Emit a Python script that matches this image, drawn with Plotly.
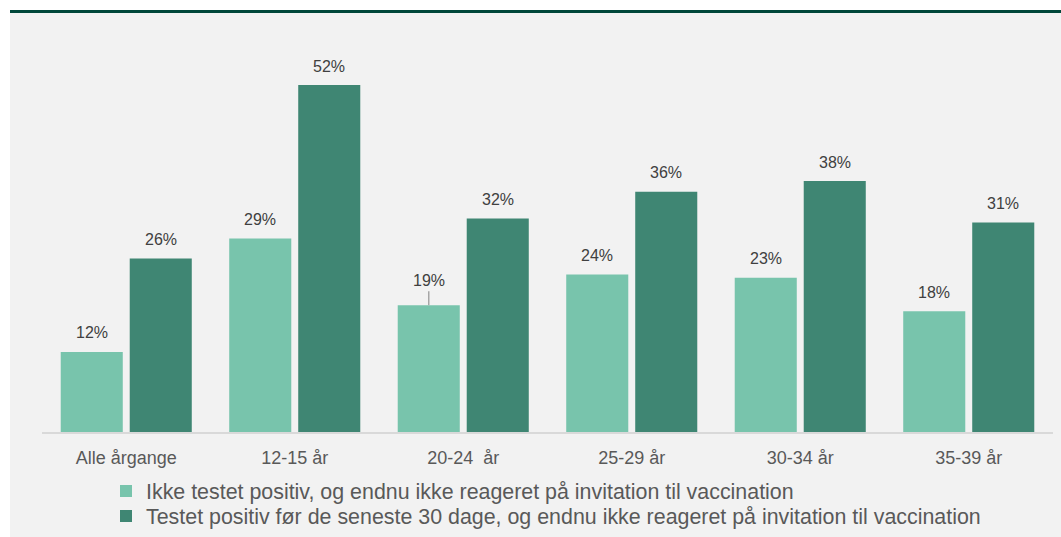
import plotly.graph_objects as go

categories = ["Alle årgange", "12-15 år", "20-24\u00a0 år", "25-29 år", "30-34 år", "35-39 år"]
not_tested = [12, 29, 19, 23.6, 23.1, 18.1]
tested_before = [26, 52, 32, 36, 37.6, 31.4]
series_names = [
    "Ikke testet positiv, og endnu ikke reageret på invitation til vaccination",
    "Testet positiv før de seneste 30 dage, og endnu ikke reageret på invitation til vaccination",
]

LIGHT = "#78C4AC"
DARK = "#3F8673"
FONT = "Liberation Sans, Arial, sans-serif"

W, H = 1061, 537
ML, MR, MT, MB = 42, 8, 20, 105
plot_w = W - ML - MR
plot_h = H - MT - MB
px_per_unit = 6.673
ymax = plot_h / px_per_unit


def px2x(px):
    return (px - ML) / plot_w


def py2y(py):
    return (H - MB - py) / plot_h


fig = go.Figure()
fig.add_bar(x=categories, y=not_tested, name=series_names[0], marker_color=LIGHT,
            marker_line_width=0, legend="legend")
fig.add_bar(x=categories, y=tested_before, name=series_names[1], marker_color=DARK,
            marker_line_width=0, legend="legend2")

label_font = dict(family=FONT, size=16, color="#404040")
ann = []
for vals, shift in ((not_tested, -34.5), (tested_before, 34.5)):
    for c, v in zip(categories, vals):
        lead = (c == categories[2] and shift < 0)
        if lead:
            ann.append(dict(x=c, y=v, xref="x", yref="y", xshift=shift,
                            text=f"{v:.0f}%", showarrow=True, ax=0, ay=-14,
                            arrowhead=0, arrowwidth=1.5, arrowcolor="#a6a6a6",
                            standoff=0, yanchor="bottom", font=label_font))
        else:
            ann.append(dict(x=c, y=v, xref="x", yref="y", xshift=shift, yshift=19,
                            text=f"{v:.0f}%", showarrow=False, yanchor="middle",
                            font=label_font))

shapes = [
    dict(type="rect", xref="paper", yref="paper", x0=px2x(10), x1=px2x(1061),
         y0=py2y(537), y1=py2y(10), fillcolor="#f2f2f2", line_width=0, layer="below"),
    dict(type="rect", xref="paper", yref="paper", x0=px2x(10), x1=px2x(1061),
         y0=py2y(13), y1=py2y(10), fillcolor="#00473A", line_width=0, layer="above"),
]

legend_style = dict(orientation="v", xanchor="left", yanchor="middle",
                    bgcolor="rgba(0,0,0,0)",
                    font=dict(family=FONT, size=21.4, color="#595959"),
                    itemsizing="constant")

fig.update_layout(
    width=W, height=H,
    margin=dict(l=ML, r=MR, t=MT, b=MB, pad=0, autoexpand=False),
    paper_bgcolor="white",
    plot_bgcolor="rgba(0,0,0,0)",
    barmode="group",
    bargap=0.181,
    bargroupgap=0.101,
    shapes=shapes,
    annotations=ann,
    showlegend=True,
    legend=dict(legend_style, x=px2x(106), y=py2y(491)),
    legend2=dict(legend_style, x=px2x(106), y=py2y(516)),
    font=dict(family=FONT),
    xaxis=dict(showline=True, linecolor="#d9d9d9", linewidth=2, showgrid=False,
               ticks="outside", ticklen=8, tickcolor="rgba(0,0,0,0)",
               tickfont=dict(family=FONT, size=18, color="#595959")),
    yaxis=dict(range=[0, ymax], visible=False, showgrid=False, zeroline=False),
)

fig.write_html("out.html")
